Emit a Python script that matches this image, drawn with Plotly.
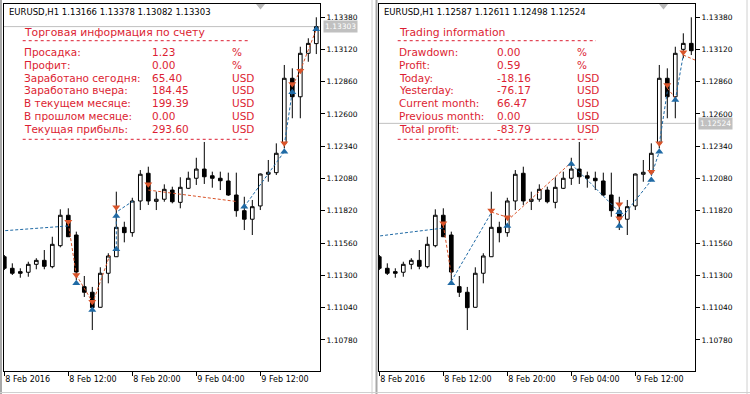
import pandas as pd
import plotly.graph_objects as go

# ---------------- data ----------------
times = list(pd.date_range("2016-02-08 04:00", periods=40, freq="h").strftime("%Y-%m-%d %H:%M"))

common_open = [1.11450, 1.11357, 1.11330, 1.11325, 1.11389, 1.11421, 1.11370, 1.11539, 1.11784, 1.11625,
               1.11209, 1.11164, 1.11043, 1.11317, 1.11450, 1.11687, 1.11644, 1.11899, 1.12122, 1.11896,
               1.11913, 1.11987, 1.11888, 1.12001, 1.12082, 1.12156, 1.12102, 1.12082, 1.12060, 1.11947,
               1.11821, 1.11752, 1.11859, 1.12114, 1.12127, 1.12363, 1.12887, 1.12738]
common_high = [1.11464, 1.11397, 1.11357, 1.11410, 1.11438, 1.11504, 1.11611, 1.11832, 1.11840, 1.11652,
               1.11295, 1.11207, 1.11365, 1.11478, 1.11974, 1.11732, 1.11925, 1.12148, 1.12175, 1.11974,
               1.12033, 1.12014, 1.12090, 1.12135, 1.12247, 1.12374, 1.12135, 1.12135, 1.12127, 1.12127,
               1.11933, 1.11907, 1.12120, 1.12229, 1.12363, 1.12994, 1.12967, 1.13141]
common_low = [1.11343, 1.11303, 1.11281, 1.11289, 1.11349, 1.11349, 1.11357, 1.11526, 1.11609, 1.11263,
              1.11126, 1.10860, 1.11040, 1.11236, 1.11448, 1.11566, 1.11611, 1.11826, 1.11867, 1.11826,
              1.11893, 1.11880, 1.11840, 1.11995, 1.12028, 1.12036, 1.12006, 1.11987, 1.11940, 1.11772,
              1.11665, 1.11625, 1.11826, 1.12054, 1.12108, 1.12323, 1.12565, 1.12565]
common_close = [1.11357, 1.11317, 1.11317, 1.11389, 1.11421, 1.11373, 1.11550, 1.11784, 1.11611, 1.11327,
                1.11164, 1.11040, 1.11317, 1.11456, 1.11687, 1.11644, 1.11899, 1.12114, 1.11899, 1.11913,
                1.11993, 1.11893, 1.12009, 1.12082, 1.12156, 1.12094, 1.12082, 1.12062, 1.11947, 1.11821,
                1.11752, 1.11853, 1.12116, 1.12130, 1.12283, 1.12887, 1.12738, 1.13088]

left_tail_open = [1.13088, 1.13166]
left_tail_high = [1.13209, 1.13378]
left_tail_low = [1.13020, 1.13082]
left_tail_close = [1.13168, 1.13303]

right_tail_open = [1.13120, 1.13168]
right_tail_high = [1.13249, 1.13378]
right_tail_low = [1.13048, 1.13074]
right_tail_close = [1.13168, 1.13109]

left_bid = 1.13303
right_bid = 1.12524

price_ticks = [1.10780, 1.11040, 1.11300, 1.11560, 1.11820, 1.12080, 1.12340, 1.12600, 1.12860, 1.13120, 1.13380]
time_tick_idx = [0, 8, 16, 24, 32]
time_tick_text = ["8 Feb 2016", "8 Feb 12:00", "8 Feb 20:00", "9 Feb 04:00", "9 Feb 12:00"]

# trade arrows (bar index, price)
left_buy_idx = [9, 11, 14, 14, 30, 35, 36, 39]
left_buy_px = [1.11236, 1.11021, 1.11510, 1.11778, 1.11853, 1.12296, 1.12774, 1.13281]
left_sell_idx = [8, 9, 11, 14, 18, 35, 36, 37]
left_sell_px = [1.11732, 1.11303, 1.11088, 1.11848, 1.12033, 1.12363, 1.12841, 1.12948]

right_buy_idx = [9, 16, 24, 30, 30, 34, 35, 37]
right_buy_px = [1.11236, 1.11698, 1.12197, 1.11808, 1.11698, 1.12068, 1.12296, 1.12712]
right_sell_idx = [8, 14, 16, 30, 30, 34, 35, 36, 38]
right_sell_px = [1.11719, 1.11822, 1.11768, 1.11872, 1.11760, 1.12135, 1.12363, 1.12833, 1.13096]

# trade connection lines: (start idx, start price, end idx, end price)
left_buy_lines = [(-3, 1.11645, 8, 1.11698), (14, 1.11510, 14, 1.11778), (14.25, 1.11820, 16.1, 1.11899),
                  (30, 1.11853, 35, 1.12296), (35, 1.12350, 36, 1.12780)]
left_sell_lines = [(8, 1.11719, 9, 1.11303), (9, 1.11303, 11, 1.11088), (11, 1.11070, 13.2, 1.11464),
                   (18, 1.11987, 29, 1.11895), (36, 1.12825, 37, 1.12948), (37, 1.12948, 39, 1.13281)]
right_buy_lines = [(-3, 1.11593, 8, 1.11681), (9, 1.11252, 14, 1.11804), (24, 1.12197, 30, 1.11810),
                   (30, 1.11740, 34, 1.12065), (34, 1.12100, 35, 1.12296), (35, 1.12360, 36, 1.12780),
                   (37, 1.12712, 38, 1.13074)]
right_sell_lines = [(8, 1.11705, 9, 1.11303), (14, 1.11810, 16, 1.11768), (16, 1.11740, 24, 1.12210),
                    (36, 1.12808, 37, 1.12728), (38, 1.13074, 40, 1.13019)]

ru_labels = ["Просадка:", "Профит:", "Заработано сегодня:", "Заработано вчера:",
             "В текущем месяце:", "В прошлом месяце:", "Текущая прибыль:"]
ru_values = ["1.23", "0.00", "65.40", "184.45", "199.39", "0.00", "293.60"]
en_labels = ["Drawdown:", "Profit:", "Today:", "Yesterday:", "Current month:", "Previous month:", "Total profit:"]
en_values = ["0.00", "0.59", "-18.16", "-76.17", "66.47", "0.00", "-83.79"]
units = ["%", "%", "USD", "USD", "USD", "USD", "USD"]

# ---------------- style ----------------
W, H = 750, 394
FONT = "DejaVu Sans"
RED = "#dc1e32"
BLUE = "#1f6aa5"
ORANGE = "#d9542a"
GRAY = "#c0c0c0"


def px_x(x):
    return x / W


def px_y(y):
    return 1 - y / H


t = pd.to_datetime(pd.Series(times))


def t_at(i):
    return (t.iloc[0] + pd.Timedelta(hours=i)).strftime("%Y-%m-%d %H:%M:%S")


panels = [
    dict(xa="x", ya="y", off=0, o=common_open + left_tail_open, h=common_high + left_tail_high,
         l=common_low + left_tail_low, c=common_close + left_tail_close, bid=left_bid,
         bi=left_buy_idx, bp=left_buy_px, si=left_sell_idx, sp=left_sell_px,
         bl=left_buy_lines, sl=left_sell_lines, header="EURUSD,H1 1.13166 1.13378 1.13082 1.13303",
         title="Торговая информация по счету", labels=ru_labels, values=ru_values,
         vx=150, ux=230, lineend=250.7, tri=260.5),
    dict(xa="x2", ya="y2", off=375, o=common_open + right_tail_open, h=common_high + right_tail_high,
         l=common_low + right_tail_low, c=common_close + right_tail_close, bid=right_bid,
         bi=right_buy_idx, bp=right_buy_px, si=right_sell_idx, sp=right_sell_px,
         bl=right_buy_lines, sl=right_sell_lines, header="EURUSD,H1 1.12587 1.12611 1.12498 1.12524",
         title="Trading information", labels=en_labels, values=en_values,
         vx=120, ux=200, lineend=221, tri=288.5),
]

fig = go.Figure()
shapes = []
annotations = []

for p in panels:
    fig.add_trace(go.Candlestick(
        x=times, open=p["o"], high=p["h"], low=p["l"], close=p["c"],
        xaxis=p["xa"], yaxis=p["ya"],
        increasing=dict(line=dict(color="black", width=1), fillcolor="white"),
        decreasing=dict(line=dict(color="black", width=1), fillcolor="black"),
        whiskerwidth=0, hoverinfo="skip"))
    for lines, col in ((p["bl"], BLUE), (p["sl"], ORANGE)):
        for (i0, p0, i1, p1) in lines:
            fig.add_trace(go.Scatter(x=[t_at(i0), t_at(i1)], y=[p0, p1], mode="lines",
                                     xaxis=p["xa"], yaxis=p["ya"],
                                     line=dict(color=col, width=1, dash="3px,2px"), hoverinfo="skip"))
    fig.add_trace(go.Scatter(x=[times[i] for i in p["si"]], y=p["sp"], mode="markers",
                             xaxis=p["xa"], yaxis=p["ya"],
                             marker=dict(symbol="triangle-down", size=7, color=ORANGE, line=dict(width=0)),
                             hoverinfo="skip"))
    fig.add_trace(go.Scatter(x=[times[i] for i in p["bi"]], y=p["bp"], mode="markers",
                             xaxis=p["xa"], yaxis=p["ya"],
                             marker=dict(symbol="triangle-up", size=7, color=BLUE, line=dict(width=0)),
                             hoverinfo="skip"))

    off = p["off"]
    # bid line
    shapes.append(dict(type="line", xref="paper", yref=p["ya"], x0=px_x(off + 4), x1=px_x(off + 320),
                       y0=p["bid"], y1=p["bid"], line=dict(color=GRAY, width=1), layer="below"))
    annotations.append(dict(xref="paper", yref=p["ya"], x=px_x(off + 323), y=p["bid"], xanchor="left",
                            yanchor="middle", text=f"{p['bid']:.5f}", showarrow=False, bgcolor=GRAY,
                            borderpad=1, font=dict(family=FONT, size=7.5, color="white")))
    # header
    annotations.append(dict(xref="paper", yref="paper", x=px_x(off + 7), y=px_y(12), xanchor="left",
                            yanchor="middle", text=p["header"], showarrow=False,
                            font=dict(family=FONT, size=8.5, color="black")))
    # info block
    annotations.append(dict(xref="paper", yref="paper", x=px_x(off + 22), y=px_y(32), xanchor="left",
                            yanchor="middle", text=p["title"], showarrow=False,
                            font=dict(family=FONT, size=10.8, color=RED)))
    for r, (lab, val, un) in enumerate(zip(p["labels"], p["values"], units)):
        yy = px_y(51.8 + 12.9 * r)
        for xx, txt in ((22, lab), (p["vx"], val), (p["ux"], un)):
            annotations.append(dict(xref="paper", yref="paper", x=px_x(off + xx), y=yy, xanchor="left",
                                    yanchor="middle", text=txt, showarrow=False,
                                    font=dict(family=FONT, size=10.5, color=RED)))
    for yy in (40.7, 139.3):
        shapes.append(dict(type="line", xref="paper", yref="paper", x0=px_x(off + 22.7),
                           x1=px_x(off + p["lineend"]), y0=px_y(yy), y1=px_y(yy),
                           line=dict(color=RED, width=1, dash="dot")))
    # chart shift triangle
    cx = off + p["tri"]
    shapes.append(dict(type="path", xref="paper", yref="paper",
                       path=f"M {px_x(cx-4.5)} {px_y(4)} L {px_x(cx+4.5)} {px_y(4)} L {px_x(cx)} {px_y(9.5)} Z",
                       fillcolor="#b8b8b8", line=dict(width=0)))

# window frames
for x0, w, c in ((1, 2, "#a8a8a8"), (372, 1, "#d0d0d0"), (376.5, 2, "#a8a8a8"), (747, 1, "#d0d0d0")):
    shapes.append(dict(type="line", xref="paper", yref="paper", x0=px_x(x0), x1=px_x(x0), y0=0, y1=1,
                       line=dict(color=c, width=w)))
shapes.append(dict(type="line", xref="paper", yref="paper", x0=0, x1=1, y0=px_y(392.5), y1=px_y(392.5),
                   line=dict(color="#d0d0d0", width=1)))

x_range = [t_at(-0.0375), t_at(39.4625)]
y_range = [1.10530, 1.13485]
ydom = [px_y(371), px_y(4)]

axis_common_x = dict(type="date", range=x_range, showgrid=False, zeroline=False, showline=True,
                     linecolor="black", linewidth=1, mirror=True, ticks="outside", ticklen=4,
                     tickcolor="black", tickvals=[times[i] for i in time_tick_idx], ticktext=time_tick_text,
                     ticklabelposition="outside right",
                     tickfont=dict(family=FONT, size=8, color="black"),
                     rangeslider=dict(visible=False), fixedrange=True)
axis_common_y = dict(range=y_range, domain=ydom, side="right", showgrid=False, zeroline=False,
                     showline=True, linecolor="black", linewidth=1, mirror=True, ticks="outside",
                     ticklen=4, tickcolor="black", tickvals=price_ticks,
                     ticktext=[f"{v:.5f}" for v in price_ticks],
                     tickfont=dict(family=FONT, size=7.5, color="black"), fixedrange=True)

fig.update_layout(
    width=W, height=H, margin=dict(l=0, r=0, t=0, b=0),
    paper_bgcolor="white", plot_bgcolor="white", showlegend=False,
    boxgap=0.35,
    xaxis=dict(axis_common_x, domain=[px_x(4), px_x(320)], anchor="y"),
    yaxis=dict(axis_common_y, anchor="x"),
    xaxis2=dict(axis_common_x, domain=[px_x(379), px_x(695)], anchor="y2"),
    yaxis2=dict(axis_common_y, anchor="x2"),
    shapes=shapes, annotations=annotations,
)

fig.write_html("out.html", config={"displayModeBar": False},
               post_script="document.body.style.margin='0';document.body.style.overflow='hidden';")
